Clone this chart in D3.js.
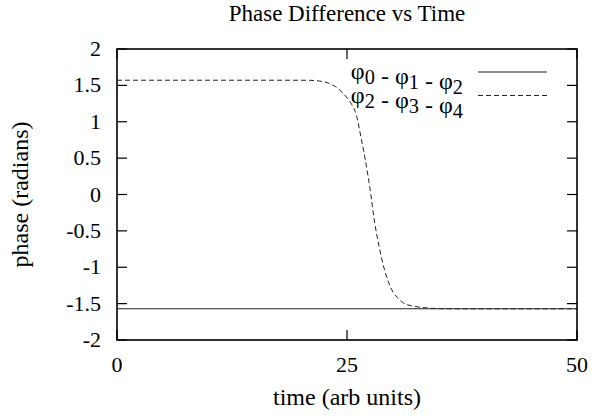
<!DOCTYPE html>
<html><head><meta charset="utf-8">
<script src="https://cdn.jsdelivr.net/npm/d3@7"></script>
<style>body{margin:0;background:#fff}svg{display:block}text{font-family:"Liberation Serif","Times New Roman",serif;fill:#000}</style>
</head><body><svg id="c" width="592" height="420"></svg>
<script>
const title = "Phase Difference vs Time";
const xLabel = "time (arb units)";
const yLabel = "phase (radians)";
const xTicks = [0, 25, 50];
const yTicks = [-2, -1.5, -1, -0.5, 0, 0.5, 1, 1.5, 2];
// series 1: phi0 - phi1 - phi2 (constant)
const t1 = [0, 10, 20, 30, 40, 50];
const v1 = [-1.5708, -1.5708, -1.5708, -1.5708, -1.5708, -1.5708];
// series 2: phi2 - phi3 - phi4
const t2 = [0, 5, 10, 15, 20, 21, 22, 23, 24, 24.5, 25, 25.5, 26, 26.5, 27, 27.5, 28, 28.5, 29, 29.5, 30, 30.5, 31, 32, 33, 34, 35, 36, 40, 45, 50];
const v2 = [1.5708, 1.5708, 1.5708, 1.5708, 1.5705, 1.569, 1.560, 1.530, 1.46, 1.40, 1.33, 1.24, 1.10, 0.80, 0.47, 0.08, -0.38, -0.72, -1.00, -1.20, -1.34, -1.42, -1.48, -1.53, -1.55, -1.563, -1.568, -1.5705, -1.5708, -1.5708, -1.5708];

const svg = d3.select("#c");
const L = 117, R = 577, T = 49, B = 340;
const x = d3.scaleLinear().domain([0, 50]).range([L, R]);
const y = d3.scaleLinear().domain([-2, 2]).range([B, T]);
const fs = 22, fsT = 24;

// tick marks (mirrored, inward)
const tl = 10;
const g = svg.append("g").attr("stroke", "#000").attr("stroke-width", 1.2);
yTicks.forEach(v => {
  g.append("line").attr("x1", L).attr("x2", L + tl).attr("y1", y(v)).attr("y2", y(v));
  g.append("line").attr("x1", R).attr("x2", R - tl).attr("y1", y(v)).attr("y2", y(v));
});
xTicks.forEach(v => {
  g.append("line").attr("x1", x(v)).attr("x2", x(v)).attr("y1", B).attr("y2", B - tl);
  g.append("line").attr("x1", x(v)).attr("x2", x(v)).attr("y1", T).attr("y2", T + tl);
});

// tick labels
yTicks.forEach(v => {
  svg.append("text").attr("x", L - 16).attr("y", y(v) + 7).attr("text-anchor", "end")
    .attr("font-size", fs).text(String(v));
});
xTicks.forEach(v => {
  svg.append("text").attr("x", x(v)).attr("y", 372).attr("text-anchor", "middle")
    .attr("font-size", fs).text(v);
});

// lines
const line = d3.line().x(d => x(d[0])).y(d => y(d[1]));
svg.append("path").datum(t1.map((t, i) => [t, v1[i]])).attr("d", line)
  .attr("fill", "none").attr("stroke", "#222").attr("stroke-width", 1);
svg.append("path").datum(t2.map((t, i) => [t, v2[i]])).attr("d", d3.line().curve(d3.curveMonotoneX).x(d => x(d[0])).y(d => y(d[1])))
  .attr("fill", "none").attr("stroke", "#222").attr("stroke-width", 1).attr("stroke-dasharray", "5,3");

// border
svg.append("rect").attr("x", L).attr("y", T).attr("width", R - L).attr("height", B - T)
  .attr("fill", "none").attr("stroke", "#000").attr("stroke-width", 1.6);

// legend
const legend = [
  {subs: ["0", "1", "2"], dash: null},
  {subs: ["2", "3", "4"], dash: "5,3"}
];
legend.forEach((d, i) => {
  const cy = 72 + i * 23.5;
  const tx = svg.append("text").attr("x", 463).attr("y", cy + 7).attr("text-anchor", "end").attr("font-size", fsT);
  d.subs.forEach((s, j) => {
    tx.append("tspan").text((j > 0 ? " - " : "") + "φ");
    tx.append("tspan").attr("dy", 5).attr("font-size", fsT * 0.85).text(s);
    tx.append("tspan").attr("dy", -5).text("");
  });
  svg.append("line").attr("x1", 478).attr("x2", 547).attr("y1", cy).attr("y2", cy)
    .attr("stroke", "#222").attr("stroke-width", 1).attr("stroke-dasharray", d.dash);
});

// titles
svg.append("text").attr("x", 347).attr("y", 21).attr("text-anchor", "middle").attr("font-size", 23).text(title);
svg.append("text").attr("x", 347).attr("y", 405).attr("text-anchor", "middle").attr("font-size", fsT).text(xLabel);
svg.append("text").attr("transform", "translate(28,194.5) rotate(-90)").attr("text-anchor", "middle").attr("font-size", fsT).text(yLabel);
</script></body></html>
